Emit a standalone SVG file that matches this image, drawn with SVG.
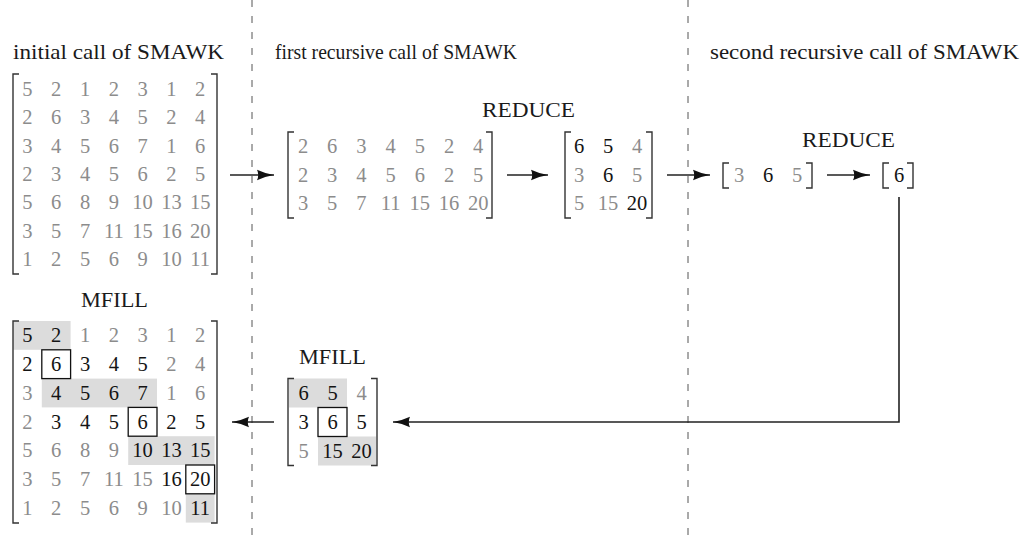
<svg xmlns="http://www.w3.org/2000/svg" width="1026" height="540" viewBox="0 0 1026 540">
  <style>
    .lbl { font-family: "Liberation Serif", "DejaVu Serif", serif; font-size: 21px; fill: #1a1a1a; }
    .n { font-family: "Liberation Serif", "DejaVu Serif", serif; font-size: 20.5px; text-anchor: middle; }
    .g { fill: #8c8c8c; }
    .k { fill: #141414; }
    .br { fill: none; stroke: #333; stroke-width: 1.4; }
    .sh { fill: #dcdcdc; stroke: none; }
    .bx { fill: #fff; stroke: #111; stroke-width: 1.3; }
    .cn { fill: none; stroke: #222; stroke-width: 1.6; }
    .sep { fill: none; stroke: #555; stroke-width: 1; stroke-dasharray: 7 9; }
  </style>
  <defs>
    <marker id="tip" markerUnits="userSpaceOnUse" markerWidth="18" markerHeight="12" refX="17" refY="6" orient="auto">
      <path d="M0,0.8 Q8,4.6 17,6 Q8,7.4 0,11.2 Q2.5,6 0,0.8 Z" fill="#111"/>
    </marker>
  </defs>

  <rect width="1026" height="540" fill="#fff"/>

  <!-- column separators between the three calls -->
  <g id="separators">
    <line class="sep" x1="252" y1="0" x2="252" y2="540"/>
    <line class="sep" x1="688" y1="0" x2="688" y2="540"/>
  </g>

  <!-- headings -->
  <g id="headings">
    <text class="lbl" x="13" y="59" textLength="211" lengthAdjust="spacingAndGlyphs">initial call of SMAWK</text>
    <text class="lbl" x="275" y="59" textLength="242" lengthAdjust="spacingAndGlyphs">first recursive call of SMAWK</text>
    <text class="lbl" x="710" y="59" textLength="309" lengthAdjust="spacingAndGlyphs">second recursive call of SMAWK</text>
  </g>

  <!-- initial 7x7 matrix -->
  <g id="initial-matrix">
    <path class="br" d="M19,74 H13 V274 H19"/>
    <path class="br" d="M211,74 H217 V274 H211"/>
    <g class="n g">
      <text x="27.4" y="96">5</text><text x="56.2" y="96">2</text><text x="85" y="96">1</text><text x="113.8" y="96">2</text><text x="142.6" y="96">3</text><text x="171.4" y="96">1</text><text x="200.2" y="96">2</text>
      <text x="27.4" y="124.3">2</text><text x="56.2" y="124.3">6</text><text x="85" y="124.3">3</text><text x="113.8" y="124.3">4</text><text x="142.6" y="124.3">5</text><text x="171.4" y="124.3">2</text><text x="200.2" y="124.3">4</text>
      <text x="27.4" y="152.6">3</text><text x="56.2" y="152.6">4</text><text x="85" y="152.6">5</text><text x="113.8" y="152.6">6</text><text x="142.6" y="152.6">7</text><text x="171.4" y="152.6">1</text><text x="200.2" y="152.6">6</text>
      <text x="27.4" y="181">2</text><text x="56.2" y="181">3</text><text x="85" y="181">4</text><text x="113.8" y="181">5</text><text x="142.6" y="181">6</text><text x="171.4" y="181">2</text><text x="200.2" y="181">5</text>
      <text x="27.4" y="209.3">5</text><text x="56.2" y="209.3">6</text><text x="85" y="209.3">8</text><text x="113.8" y="209.3">9</text><text x="142.6" y="209.3">10</text><text x="171.4" y="209.3">13</text><text x="200.2" y="209.3">15</text>
      <text x="27.4" y="237.6">3</text><text x="56.2" y="237.6">5</text><text x="85" y="237.6">7</text><text x="113.8" y="237.6">11</text><text x="142.6" y="237.6">15</text><text x="171.4" y="237.6">16</text><text x="200.2" y="237.6">20</text>
      <text x="27.4" y="266">1</text><text x="56.2" y="266">2</text><text x="85" y="266">5</text><text x="113.8" y="266">6</text><text x="142.6" y="266">9</text><text x="171.4" y="266">10</text><text x="200.2" y="266">11</text>
    </g>
  </g>

  <!-- first recursive call: odd rows passed down -->
  <g id="first-input">
    <path class="br" d="M294,132 H288 V218 H294"/>
    <path class="br" d="M486,132 H492 V218 H486"/>
    <g class="n g">
      <text x="303" y="153.3">2</text><text x="332.2" y="153.3">6</text><text x="361.4" y="153.3">3</text><text x="390.6" y="153.3">4</text><text x="419.8" y="153.3">5</text><text x="449" y="153.3">2</text><text x="478.2" y="153.3">4</text>
      <text x="303" y="181.8">2</text><text x="332.2" y="181.8">3</text><text x="361.4" y="181.8">4</text><text x="390.6" y="181.8">5</text><text x="419.8" y="181.8">6</text><text x="449" y="181.8">2</text><text x="478.2" y="181.8">5</text>
      <text x="303" y="210.3">3</text><text x="332.2" y="210.3">5</text><text x="361.4" y="210.3">7</text><text x="390.6" y="210.3">11</text><text x="419.8" y="210.3">15</text><text x="449" y="210.3">16</text><text x="478.2" y="210.3">20</text>
    </g>
  </g>

  <!-- first recursive call: REDUCE result -->
  <g id="first-reduced">
    <text class="lbl" x="482" y="117" textLength="93" lengthAdjust="spacingAndGlyphs">REDUCE</text>
    <path class="br" d="M571,132 H565 V218 H571"/>
    <path class="br" d="M646,132 H652 V218 H646"/>
    <g class="n">
      <text class="k" x="579" y="153.3">6</text><text class="k" x="608" y="153.3">5</text><text class="g" x="637" y="153.3">4</text>
      <text class="g" x="579" y="181.8">3</text><text class="k" x="608" y="181.8">6</text><text class="g" x="637" y="181.8">5</text>
      <text class="g" x="579" y="210.3">5</text><text class="g" x="608" y="210.3">15</text><text class="k" x="637" y="210.3">20</text>
    </g>
  </g>

  <!-- second recursive call: middle row passed down -->
  <g id="second-input">
    <path class="br" d="M729,163 H723 V188 H729"/>
    <path class="br" d="M806,163 H812 V188 H806"/>
    <g class="n">
      <text class="g" x="739" y="182">3</text><text class="k" x="768" y="182">6</text><text class="g" x="797" y="182">5</text>
    </g>
  </g>

  <!-- second recursive call: REDUCE result -->
  <g id="second-reduced">
    <text class="lbl" x="802" y="147" textLength="93" lengthAdjust="spacingAndGlyphs">REDUCE</text>
    <path class="br" d="M889,163 H883 V188 H889"/>
    <path class="br" d="M907,163 H913 V188 H907"/>
    <text class="n k" x="899" y="182">6</text>
  </g>

  <!-- first recursive call: MFILL result -->
  <g id="first-mfill">
    <text class="lbl" x="299" y="364" textLength="67" lengthAdjust="spacingAndGlyphs">MFILL</text>
    <rect class="sh" x="289" y="378.5" width="58" height="29"/>
    <rect class="sh" x="318" y="436.5" width="58" height="29"/>
    <rect class="bx" x="318" y="407.5" width="29" height="29"/>
    <path class="br" d="M294,378.5 H288 V465.5 H294"/>
    <path class="br" d="M371,378.5 H377 V465.5 H371"/>
    <g class="n">
      <text class="k" x="303.5" y="400">6</text><text class="k" x="332.5" y="400">5</text><text class="g" x="361.5" y="400">4</text>
      <text class="k" x="303.5" y="429">3</text><text class="k" x="332.5" y="429">6</text><text class="k" x="361.5" y="429">5</text>
      <text class="g" x="303.5" y="458">5</text><text class="k" x="332.5" y="458">15</text><text class="k" x="361.5" y="458">20</text>
    </g>
  </g>

  <!-- initial call: MFILL result -->
  <g id="initial-mfill">
    <text class="lbl" x="81" y="307" textLength="67" lengthAdjust="spacingAndGlyphs">MFILL</text>
    <rect class="sh" x="13" y="321" width="57.6" height="28.8"/>
    <rect class="sh" x="41.8" y="378.6" width="115.2" height="28.8"/>
    <rect class="sh" x="128.2" y="436.2" width="86.4" height="28.8"/>
    <rect class="sh" x="185.8" y="493.8" width="28.8" height="28.8"/>
    <rect class="bx" x="41.8" y="349.8" width="28.8" height="28.8"/>
    <rect class="bx" x="128.2" y="407.4" width="28.8" height="28.8"/>
    <rect class="bx" x="185.8" y="465" width="28.8" height="28.8"/>
    <path class="br" d="M19,321 H13 V523 H19"/>
    <path class="br" d="M211,321 H217 V523 H211"/>
    <g class="n">
      <text class="k" x="27.4" y="342.2">5</text><text class="k" x="56.2" y="342.2">2</text><text class="g" x="85" y="342.2">1</text><text class="g" x="113.8" y="342.2">2</text><text class="g" x="142.6" y="342.2">3</text><text class="g" x="171.4" y="342.2">1</text><text class="g" x="200.2" y="342.2">2</text>
      <text class="k" x="27.4" y="371">2</text><text class="k" x="56.2" y="371">6</text><text class="k" x="85" y="371">3</text><text class="k" x="113.8" y="371">4</text><text class="k" x="142.6" y="371">5</text><text class="g" x="171.4" y="371">2</text><text class="g" x="200.2" y="371">4</text>
      <text class="g" x="27.4" y="399.8">3</text><text class="k" x="56.2" y="399.8">4</text><text class="k" x="85" y="399.8">5</text><text class="k" x="113.8" y="399.8">6</text><text class="k" x="142.6" y="399.8">7</text><text class="g" x="171.4" y="399.8">1</text><text class="g" x="200.2" y="399.8">6</text>
      <text class="g" x="27.4" y="428.6">2</text><text class="k" x="56.2" y="428.6">3</text><text class="k" x="85" y="428.6">4</text><text class="k" x="113.8" y="428.6">5</text><text class="k" x="142.6" y="428.6">6</text><text class="k" x="171.4" y="428.6">2</text><text class="k" x="200.2" y="428.6">5</text>
      <text class="g" x="27.4" y="457.4">5</text><text class="g" x="56.2" y="457.4">6</text><text class="g" x="85" y="457.4">8</text><text class="g" x="113.8" y="457.4">9</text><text class="k" x="142.6" y="457.4">10</text><text class="k" x="171.4" y="457.4">13</text><text class="k" x="200.2" y="457.4">15</text>
      <text class="g" x="27.4" y="486.2">3</text><text class="g" x="56.2" y="486.2">5</text><text class="g" x="85" y="486.2">7</text><text class="g" x="113.8" y="486.2">11</text><text class="g" x="142.6" y="486.2">15</text><text class="k" x="171.4" y="486.2">16</text><text class="k" x="200.2" y="486.2">20</text>
      <text class="g" x="27.4" y="515">1</text><text class="g" x="56.2" y="515">2</text><text class="g" x="85" y="515">5</text><text class="g" x="113.8" y="515">6</text><text class="g" x="142.6" y="515">9</text><text class="g" x="171.4" y="515">10</text><text class="k" x="200.2" y="515">11</text>
    </g>
  </g>

  <!-- connectors -->
  <g id="connectors">
    <line class="cn" x1="230" y1="175" x2="274" y2="175" marker-end="url(#tip)"/>
    <line class="cn" x1="507" y1="175" x2="548" y2="175" marker-end="url(#tip)"/>
    <line class="cn" x1="667" y1="175" x2="710" y2="175" marker-end="url(#tip)"/>
    <line class="cn" x1="827" y1="175" x2="870" y2="175" marker-end="url(#tip)"/>
    <polyline class="cn" points="899,197 899,422 393,422" marker-end="url(#tip)"/>
    <line class="cn" x1="274" y1="422" x2="232" y2="422" marker-end="url(#tip)"/>
  </g>
</svg>
